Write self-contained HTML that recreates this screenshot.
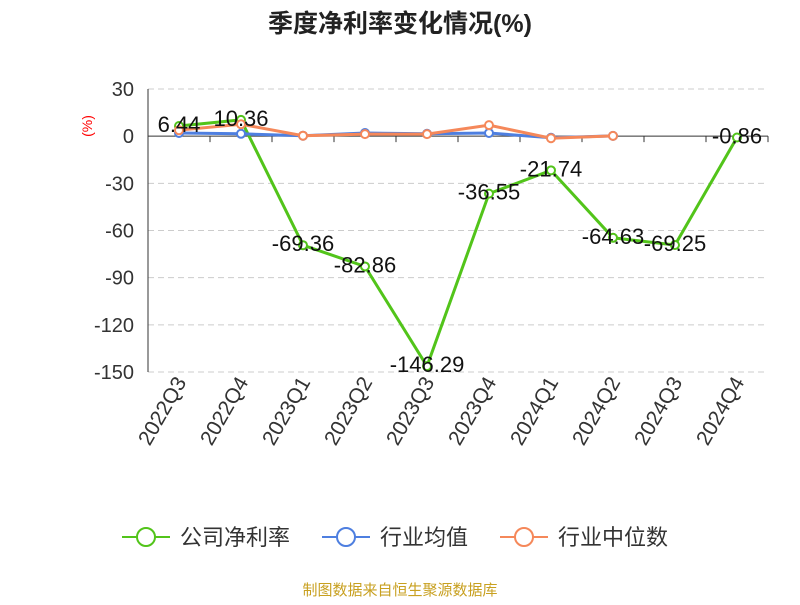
<!DOCTYPE html>
<html><head><meta charset="utf-8"><style>
body{margin:0;background:#fff;font-family:"Liberation Sans","Noto Sans CJK SC",sans-serif;}
</style></head><body>
<svg id="c" width="800" height="600" xmlns="http://www.w3.org/2000/svg" font-family="Liberation Sans, Noto Sans CJK SC, sans-serif">
<text x="400" y="32" text-anchor="middle" font-size="25" font-weight="bold" fill="#222">季度净利率变化情况(%)</text>
<text x="92" y="126" font-size="14" fill="red" transform="rotate(-90 92 126)" text-anchor="middle">(%)</text>
<g id="grid"></g><g id="series"></g><g id="labels"></g>
<g>
<g><line x1="122" y1="537" x2="170" y2="537" stroke="#52c41a" stroke-width="2"/><circle cx="146" cy="537" r="9" fill="#fff" stroke="#52c41a" stroke-width="2"/><text x="180" y="545" font-size="22" fill="#333">公司净利率</text></g>
<g><line x1="322" y1="537" x2="370" y2="537" stroke="#4e7fe0" stroke-width="2"/><circle cx="346" cy="537" r="9" fill="#fff" stroke="#4e7fe0" stroke-width="2"/><text x="380" y="545" font-size="22" fill="#333">行业均值</text></g>
<g><line x1="500" y1="537" x2="548" y2="537" stroke="#f5885a" stroke-width="2"/><circle cx="524" cy="537" r="9" fill="#fff" stroke="#f5885a" stroke-width="2"/><text x="558" y="545" font-size="22" fill="#333">行业中位数</text></g>
</g>
<text x="400" y="595" text-anchor="middle" font-size="15" fill="#c8a020">制图数据来自恒生聚源数据库</text>
</svg>
<script>
const categories=["2022Q3","2022Q4","2023Q1","2023Q2","2023Q3","2023Q4","2024Q1","2024Q2","2024Q3","2024Q4"];
const companyValues=[6.44,10.36,-69.36,-82.86,-146.29,-36.55,-21.74,-64.63,-69.25,-0.86];
const industryAvg=[2,1.5,0.3,2,1.5,2,-1,0.2,null,null];
const industryMedian=[3.8,7.6,0.3,1.3,1.3,7,-1.3,0.2,null,null];
const yTicks=[30,0,-30,-60,-90,-120,-150];
const NS="http://www.w3.org/2000/svg";
const x0=148,x1=768,yTop=89,yBot=372,vMax=30,vMin=-150;
const bw=(x1-x0)/categories.length;
const xs=i=>x0+bw*(i+0.5);
const ys=v=>yTop+(vMax-v)/(vMax-vMin)*(yBot-yTop);
function mk(t,a,p){const e=document.createElementNS(NS,t);for(const k in a)e.setAttribute(k,a[k]);p.appendChild(e);return e;}
const g=document.getElementById('grid');
yTicks.forEach(v=>{
 if(v!==0){const l=mk('line',{x1:x0,x2:x1,y1:ys(v),y2:ys(v),stroke:'#ccc','stroke-dasharray':'6,4'},g);
 }
 const t=mk('text',{x:x0-14,y:ys(v)+7,'text-anchor':'end','font-size':20,fill:'#333'},g);t.textContent=v;
 
});
const ax=mk('line',{x1:x0,x2:x0,y1:yTop,y2:yBot,stroke:'#333'},g);

const xa=mk('line',{x1:x0,x2:x1,y1:ys(0),y2:ys(0),stroke:'#333'},g);

for(let i=0;i<=categories.length;i++){const tk=mk('line',{x1:x0+bw*i,x2:x0+bw*i,y1:ys(0),y2:ys(0)+6,stroke:'#333'},g);
 }
categories.forEach((c,i)=>{const x=xs(i)+8,y=382;
 const t=mk('text',{x:x,y:y,'text-anchor':'end','font-size':21,fill:'#333',transform:`rotate(-60 ${x} ${y})`},g);t.textContent=c;
 });
const s=document.getElementById('series');
function series(vals,color,name,w){
 let d='';vals.forEach((v,i)=>{if(v===null)return;d+=(d?'L':'M')+xs(i)+','+ys(v);});
 const p=mk('path',{d:d,fill:'none',stroke:color,'stroke-width':w},s);
 
 vals.forEach((v,i)=>{if(v===null)return;const c=mk('circle',{cx:xs(i),cy:ys(v),r:4,fill:'#fff',stroke:color,'stroke-width':2},s);
 });
}
series(companyValues,'#52c41a','company',3);
series(industryAvg,'#4e7fe0','industry-avg',3);
series(industryMedian,'#f5885a','industry-median',3);
const lg=document.getElementById('labels');
companyValues.forEach((v,i)=>{const t=mk('text',{x:xs(i),y:ys(v)+6,'text-anchor':'middle','font-size':22,fill:'#111'},lg);
 t.textContent=v;});
</script>
</body></html>
